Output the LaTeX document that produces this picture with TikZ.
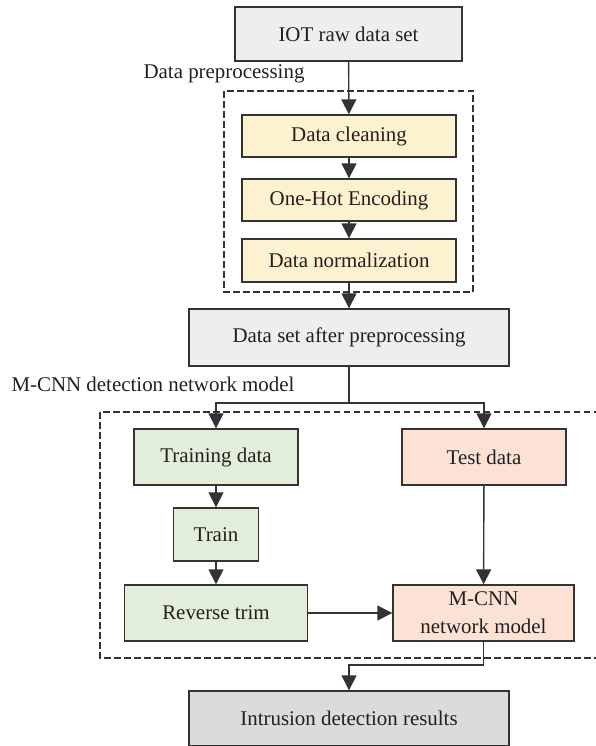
\documentclass[tikz,border=0pt]{standalone}
\usepackage{fontspec}
\setmainfont{Liberation Serif}
\usetikzlibrary{arrows.meta}
\definecolor{edge}{HTML}{333333}
\definecolor{txt}{HTML}{231F20}
\definecolor{grayblue}{HTML}{EDEEF0}
\definecolor{yel}{HTML}{FCF2CF}
\definecolor{grn}{HTML}{E2EED9}
\definecolor{sal}{HTML}{FBE2D5}
\definecolor{resg}{HTML}{DCDBDA}
\tikzset{
  box/.style={draw=edge, line width=1.4bp, text=txt, inner sep=0pt, align=center,
    font=\fontsize{21}{28}\selectfont},
  arr/.style={draw=edge, line width=1.4bp, -{Triangle[length=15bp,width=15bp]}},
  ln/.style={draw=edge, line width=1.4bp},
  dbox/.style={draw=edge, line width=1.2bp, dash pattern=on 6.5bp off 3.5bp},
  lbl/.style={text=txt, inner sep=0pt, font=\fontsize{21}{28}\selectfont}
}
\begin{document}
\begin{tikzpicture}[x=1bp,y=-1bp]
\useasboundingbox (0,0) rectangle (596,746);
% dashed groups
\draw[dbox] (224,91) rectangle (473,292);
\draw[dbox] (600,412) -- (100,412) -- (100,658) -- (600,658);
% labels
\node[lbl] (lpre) at (224,74) {Data preprocessing};
\node[lbl] (lmcnn) at (153,384) {M-CNN detection network model};
% nodes
\node[box, fill=grayblue, minimum width=227bp, minimum height=54bp] (iot) at (348.5,34) {IOT raw data set};
\node[box, fill=yel, minimum width=214bp, minimum height=42bp] (clean) at (349,136) {Data cleaning};
\node[box, fill=yel, minimum width=214bp, minimum height=42bp] (onehot) at (349,200) {One-Hot Encoding};
\node[box, fill=yel, minimum width=214bp, minimum height=43bp] (norm) at (349,260.5) {Data normalization};
\node[box, fill=grayblue, minimum width=320bp, minimum height=57bp] (dset) at (349,337.5) {Data set after preprocessing};
\node[box, fill=grn, minimum width=164bp, minimum height=56bp] (tdata) at (216,457) {Training data};
\node[box, fill=sal, minimum width=164bp, minimum height=56bp] (test) at (484,457) {Test data};
\node[box, fill=grn, minimum width=85bp, minimum height=53bp] (train) at (216,534.5) {Train};
\node[box, fill=grn, minimum width=183bp, minimum height=56bp] (rev) at (216,613) {Reverse trim};
\node[box, fill=sal, minimum width=181bp, minimum height=56bp] (mcnn) at (483.5,613) {M-CNN\\network model};
\node[box, fill=resg, minimum width=320bp, minimum height=55bp] (res) at (349,718.5) {Intrusion detection results};
% connectors
\coordinate (split) at (349,403);
\coordinate (join) at (483.5,665);
\draw[arr] (iot) -- (clean);
\draw[arr] (clean) -- (onehot);
\draw[arr] (onehot) -- (norm);
\draw[arr] (norm) -- (dset);
\draw[ln] (dset.south) -- (split);
\draw[arr] (split) -| (tdata.north);
\draw[arr] (split) -| (test.north);
\draw[arr] (tdata) -- (train);
\draw[arr] (train) -- (rev);
\draw[arr] (test) -- (mcnn);
\draw[arr] (rev.east) -- (mcnn.west);
\draw[ln] (mcnn.south) -- (join);
\draw[arr] (join) -| (res.north);
\end{tikzpicture}
\end{document}
